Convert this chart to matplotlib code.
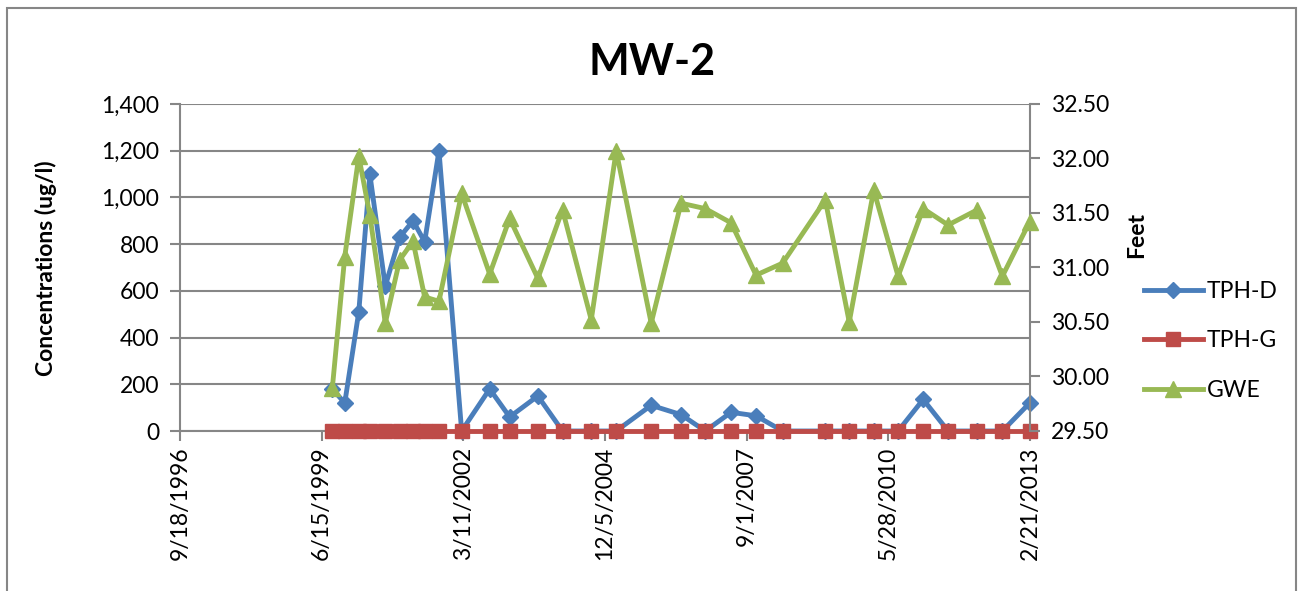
import matplotlib
matplotlib.use("Agg")
import matplotlib.pyplot as plt
import matplotlib.ticker as mticker
from matplotlib.patches import Rectangle
from matplotlib.lines import Line2D
import pandas as pd

# sample dates
dates = ["1999-08-29", "1999-11-25", "2000-03-03", "2000-05-20", "2000-09-06",
         "2000-12-17", "2001-03-21", "2001-06-11", "2001-09-20", "2002-02-27",
         "2002-09-13", "2003-02-01", "2003-08-19", "2004-02-09", "2004-08-30",
         "2005-02-22", "2005-10-27", "2006-05-26", "2006-11-13", "2007-05-14",
         "2007-11-06", "2008-05-12", "2009-03-09", "2009-08-25", "2010-02-14",
         "2010-08-05", "2011-01-29", "2011-07-24", "2012-02-16", "2012-08-10",
         "2013-02-19"]

tph_d = [180, 120, 510, 1100, 620, 830, 900, 810, 1200, 0,
         180, 60, 150, 0, 0, 0, 110, 70, 0, 80,
         65, 0, 0, 0, 0, 0, 135, 0, 0, 0,
         120]

tph_g = [0] * 31

gwe = [29.89, 31.10, 32.02, 31.48, 30.49, 31.07, 31.24, 30.73, 30.69, 31.68,
       30.94, 31.45, 30.90, 31.53, 30.52, 32.07, 30.49, 31.59, 31.54, 31.41,
       30.93, 31.04, 31.62, 30.50, 31.71, 30.92, 31.54, 31.39, 31.53, 30.92,
       31.42]

xtick_labels = ["9/18/1996", "6/15/1999", "3/11/2002", "12/5/2004",
                "9/1/2007", "5/28/2010", "2/21/2013"]

blue = "#4A7EBB"
red = "#BE4B48"
green = "#98B954"
grey = "#868686"

plt.rcParams["font.family"] = ["Lato", "DejaVu Sans"]

W, H = 1299, 591
fig = plt.figure(figsize=(W / 100, H / 100), dpi=100)

# outer chart border
fig.patches.append(Rectangle((7 / W, -0.05), 1289 / W, (H - 8) / H + 0.05,
                             transform=fig.transFigure, fill=False,
                             edgecolor=grey, linewidth=1.5))

ax = fig.add_axes([180 / W, (H - 431) / H, 850 / W, 327 / H])
ax2 = ax.twinx()

x = pd.to_datetime(dates)
xt = pd.to_datetime(xtick_labels, format="%m/%d/%Y")

ax.plot(x, tph_d, color=blue, lw=3.5, marker="D", ms=8, label="TPH-D",
        zorder=3, clip_on=False)
ax.plot(x, tph_g, color=red, lw=3.5, marker="s", ms=10, label="TPH-G",
        zorder=4, clip_on=False)
ax2.plot(x, gwe, color=green, lw=3.5, marker="^", ms=11, label="GWE",
         zorder=3, clip_on=False)

ax.set_xlim(xt[0], xt[-1])
ax.set_ylim(0, 1400)
ax2.set_ylim(29.5, 32.5)

ax.set_xticks(xt)
ax.set_xticklabels(xtick_labels, rotation=90, fontsize=16.5)
ax.yaxis.set_major_locator(mticker.MultipleLocator(200))
ax.yaxis.set_major_formatter(mticker.StrMethodFormatter("{x:,.0f}"))
ax2.yaxis.set_major_locator(mticker.MultipleLocator(0.5))
ax2.yaxis.set_major_formatter(mticker.StrMethodFormatter("{x:.2f}"))

ax.grid(axis="y", color=grey, lw=1.5)
ax.set_axisbelow(True)

for a in (ax, ax2):
    a.spines["top"].set_visible(False)
    for s in ("left", "right", "bottom"):
        a.spines[s].set_color(grey)
        a.spines[s].set_linewidth(1.5)
    a.tick_params(axis="both", colors=grey, width=1.5, length=7,
                  labelcolor="black", labelsize=16.5)
ax.tick_params(axis="y", pad=8)
ax2.tick_params(axis="y", pad=8)
ax.tick_params(axis="x", pad=4)
ax.spines["right"].set_visible(False)
ax2.spines["left"].set_visible(False)
ax2.spines["bottom"].set_visible(False)

fig.text(46 / W, 1 - 268 / H, "Concentrations (ug/l)", rotation=90,
         ha="center", va="center", fontsize=16.5, fontweight="bold")
fig.text(1137 / W, 1 - 235 / H, "Feet", rotation=90,
         ha="center", va="center", fontsize=16.5, fontweight="bold")

fig.text(652 / W, 1 - 62 / H, "MW-2", ha="center", va="center",
         fontsize=31, fontweight="bold")

handles = [Line2D([], [], color=blue, lw=3.5, marker="D", ms=8),
           Line2D([], [], color=red, lw=3.5, marker="s", ms=10),
           Line2D([], [], color=green, lw=3.5, marker="^", ms=11)]
fig.legend(handles, ["TPH-D", "TPH-G", "GWE"], loc="center left",
           bbox_to_anchor=(1123 / W, 1 - 341 / H), frameon=False,
           fontsize=16.5, handlelength=2.6, handletextpad=0.15,
           labelspacing=1.25)

fig.savefig("out.png", dpi=100)
